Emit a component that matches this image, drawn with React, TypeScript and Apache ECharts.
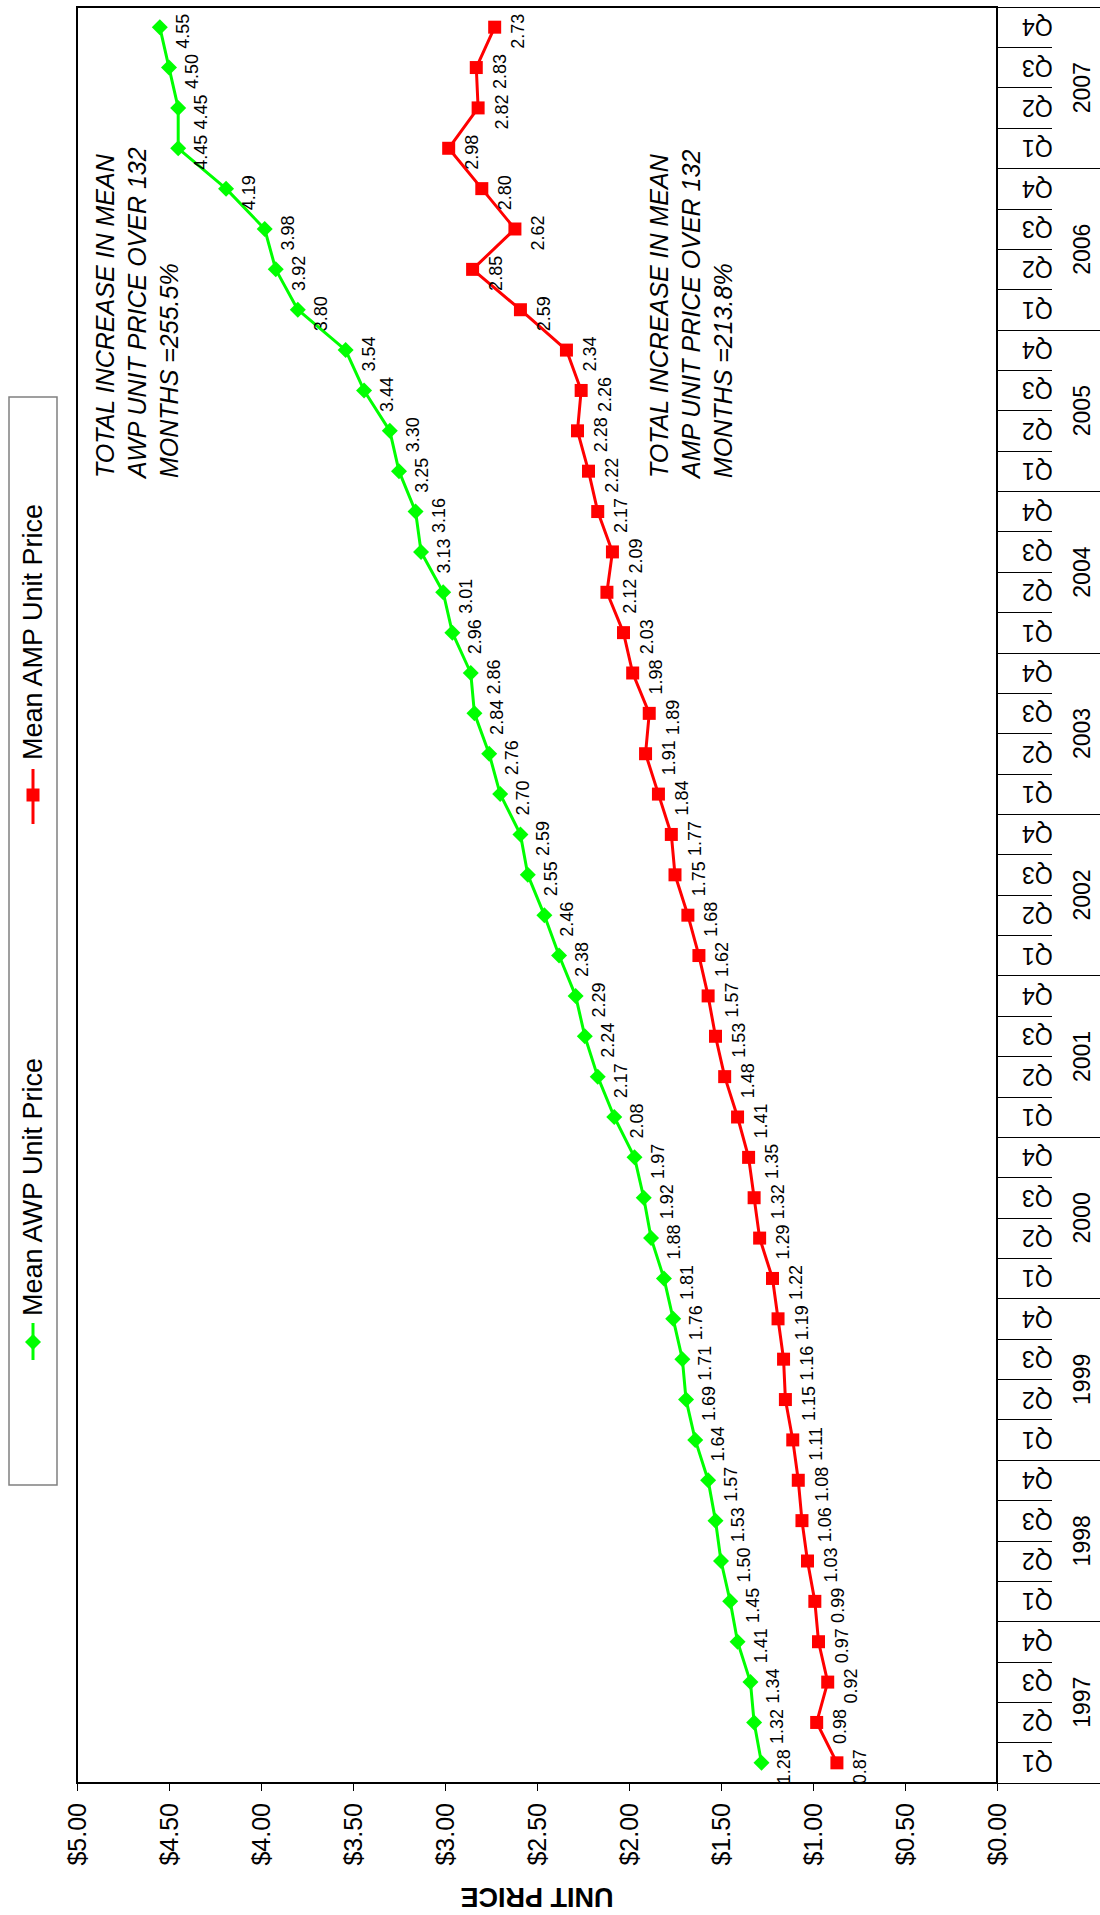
import React, { useEffect, useRef } from "react";
import * as echarts from "echarts";

const years = ["1997", "1998", "1999", "2000", "2001", "2002", "2003", "2004", "2005", "2006", "2007"];
const quarterNames = ["Q1", "Q2", "Q3", "Q4"];
const quarterCats: string[] = [];
years.forEach((y) => quarterNames.forEach((q) => quarterCats.push(y + " " + q)));

const awpValues = [
  1.28, 1.32, 1.34, 1.41,
  1.45, 1.5, 1.53, 1.57,
  1.64, 1.69, 1.71, 1.76,
  1.81, 1.88, 1.92, 1.97,
  2.08, 2.17, 2.24, 2.29,
  2.38, 2.46, 2.55, 2.59,
  2.7, 2.76, 2.84, 2.86,
  2.96, 3.01, 3.13, 3.16,
  3.25, 3.3, 3.44, 3.54,
  3.8, 3.92, 3.98, 4.19,
  4.45, 4.45, 4.5, 4.55,
];

const ampValues = [
  0.87, 0.98, 0.92, 0.97,
  0.99, 1.03, 1.06, 1.08,
  1.11, 1.15, 1.16, 1.19,
  1.22, 1.29, 1.32, 1.35,
  1.41, 1.48, 1.53, 1.57,
  1.62, 1.68, 1.75, 1.77,
  1.84, 1.91, 1.89, 1.98,
  2.03, 2.12, 2.09, 2.17,
  2.22, 2.28, 2.26, 2.34,
  2.59, 2.85, 2.62, 2.8,
  2.98, 2.82, 2.83, 2.73,
];

const awpName = "Mean AWP Unit Price";
const ampName = "Mean AMP Unit Price";
const awpNote = "TOTAL INCREASE IN MEAN\nAWP UNIT PRICE OVER 132\nMONTHS =255.5%";
const ampNote = "TOTAL INCREASE IN MEAN\nAMP UNIT PRICE OVER 132\nMONTHS =213.8%";

const FONT = "'Liberation Sans', Arial, sans-serif";
const GREEN = "#00FF00";
const RED = "#FF0000";

function valueLabel(distance: number) {
  return {
    show: true,
    position: "right",
    distance,
    rotate: 90,
    align: "center",
    verticalAlign: "middle",
    offset: [-4, 0],
    fontSize: 18,
    fontFamily: FONT,
    color: "#000",
    formatter: (p: any) => {
      const v = Array.isArray(p.value) ? p.value[0] : p.value;
      return Number(v).toFixed(2);
    },
  };
}

export default function App() {
  const ref = useRef<HTMLDivElement>(null);
  useEffect(() => {
    document.body.style.margin = "0";
    document.body.style.overflow = "hidden";
    if (!ref.current) return;
    const chart = echarts.init(ref.current, undefined, { renderer: "svg" });
    const option: any = {
      animation: false,
      backgroundColor: "#fff",
      textStyle: { fontFamily: FONT },
      grid: {
        left: 77,
        right: 103,
        top: 7,
        bottom: 132,
        show: true,
        borderColor: "#000",
        borderWidth: 2,
        backgroundColor: "transparent",
      },
      xAxis: {
        type: "value",
        min: 0,
        max: 5,
        interval: 0.5,
        inverse: true,
        position: "bottom",
        axisLine: { show: true, lineStyle: { color: "#000", width: 2 } },
        axisTick: { show: true, length: 8, lineStyle: { color: "#000", width: 1 } },
        splitLine: { show: false },
        axisLabel: {
          rotate: 90,
          margin: 20,
          fontSize: 25,
          color: "#000",
          fontFamily: FONT,
          formatter: (v: number) => "$" + v.toFixed(2),
        },
        name: "UNIT PRICE",
        nameLocation: "middle",
        nameGap: 100,
        nameRotate: 180,
        nameTextStyle: { fontSize: 27, fontWeight: "bold", color: "#000", fontFamily: FONT },
      },
      yAxis: [
        {
          type: "category",
          data: quarterCats,
          position: "right",
          boundaryGap: true,
          axisLine: { show: true, lineStyle: { color: "#000", width: 2 } },
          axisTick: { show: true, interval: 0, length: 55, lineStyle: { color: "#000", width: 1 } },
          splitLine: { show: false },
          axisLabel: {
            interval: 0,
            rotate: 180,
            margin: 25,
            fontSize: 23,
            color: "#000",
            fontFamily: FONT,
            formatter: (v: string) => v.split(" ")[1],
          },
        },
        {
          type: "category",
          data: years,
          position: "right",
          boundaryGap: true,
          axisLine: { show: false },
          axisTick: { show: true, interval: 0, length: 103, lineStyle: { color: "#000", width: 1 } },
          splitLine: { show: false },
          axisLabel: {
            interval: 0,
            rotate: 90,
            margin: 73,
            fontSize: 23,
            color: "#000",
            fontFamily: FONT,
          },
        },
      ],
      series: [
        {
          name: awpName,
          type: "line",
          yAxisIndex: 0,
          data: awpValues,
          symbol: "diamond",
          symbolSize: 16,
          lineStyle: { color: GREEN, width: 3 },
          itemStyle: { color: GREEN },
          label: valueLabel(15),
          z: 3,
        },
        {
          name: ampName,
          type: "line",
          yAxisIndex: 0,
          data: ampValues,
          symbol: "rect",
          symbolSize: 13,
          lineStyle: { color: RED, width: 3 },
          itemStyle: { color: RED },
          label: valueLabel(17),
          z: 3,
        },
      ],
      graphic: [
        {
          type: "rect",
          shape: { x: 9, y: 397, width: 48, height: 1088 },
          style: { fill: "#fff", stroke: "#808080", lineWidth: 1.5 },
          z: 50,
        },
        {
          type: "line",
          shape: { x1: 33, y1: 1323, x2: 33, y2: 1360 },
          style: { stroke: GREEN, lineWidth: 3 },
          z: 51,
        },
        {
          type: "polygon",
          shape: { points: [[33, 1334], [41, 1342], [33, 1350], [25, 1342]] },
          style: { fill: GREEN },
          z: 52,
        },
        {
          type: "text",
          x: 33,
          y: 1316,
          rotation: Math.PI / 2,
          style: { text: awpName, fontSize: 27, fontFamily: FONT, fill: "#000", align: "left", verticalAlign: "middle" },
          z: 52,
        },
        {
          type: "line",
          shape: { x1: 33, y1: 769, x2: 33, y2: 824 },
          style: { stroke: RED, lineWidth: 3 },
          z: 51,
        },
        {
          type: "rect",
          shape: { x: 26.5, y: 788.5, width: 13, height: 13 },
          style: { fill: RED },
          z: 52,
        },
        {
          type: "text",
          x: 33,
          y: 760,
          rotation: Math.PI / 2,
          style: { text: ampName, fontSize: 27, fontFamily: FONT, fill: "#000", align: "left", verticalAlign: "middle" },
          z: 52,
        },
        {
          type: "text",
          x: 89,
          y: 478,
          rotation: Math.PI / 2,
          style: {
            text: awpNote,
            fontSize: 25,
            fontStyle: "italic",
            fontFamily: FONT,
            lineHeight: 32,
            fill: "#000",
            align: "left",
            verticalAlign: "top",
          },
          z: 52,
        },
        {
          type: "text",
          x: 643,
          y: 478,
          rotation: Math.PI / 2,
          style: {
            text: ampNote,
            fontSize: 25,
            fontStyle: "italic",
            fontFamily: FONT,
            lineHeight: 32,
            fill: "#000",
            align: "left",
            verticalAlign: "top",
          },
          z: 52,
        },
      ],
    };
    chart.setOption(option);
    return () => chart.dispose();
  }, []);
  return <div ref={ref} style={{ width: 1100, height: 1915 }} />;
}
